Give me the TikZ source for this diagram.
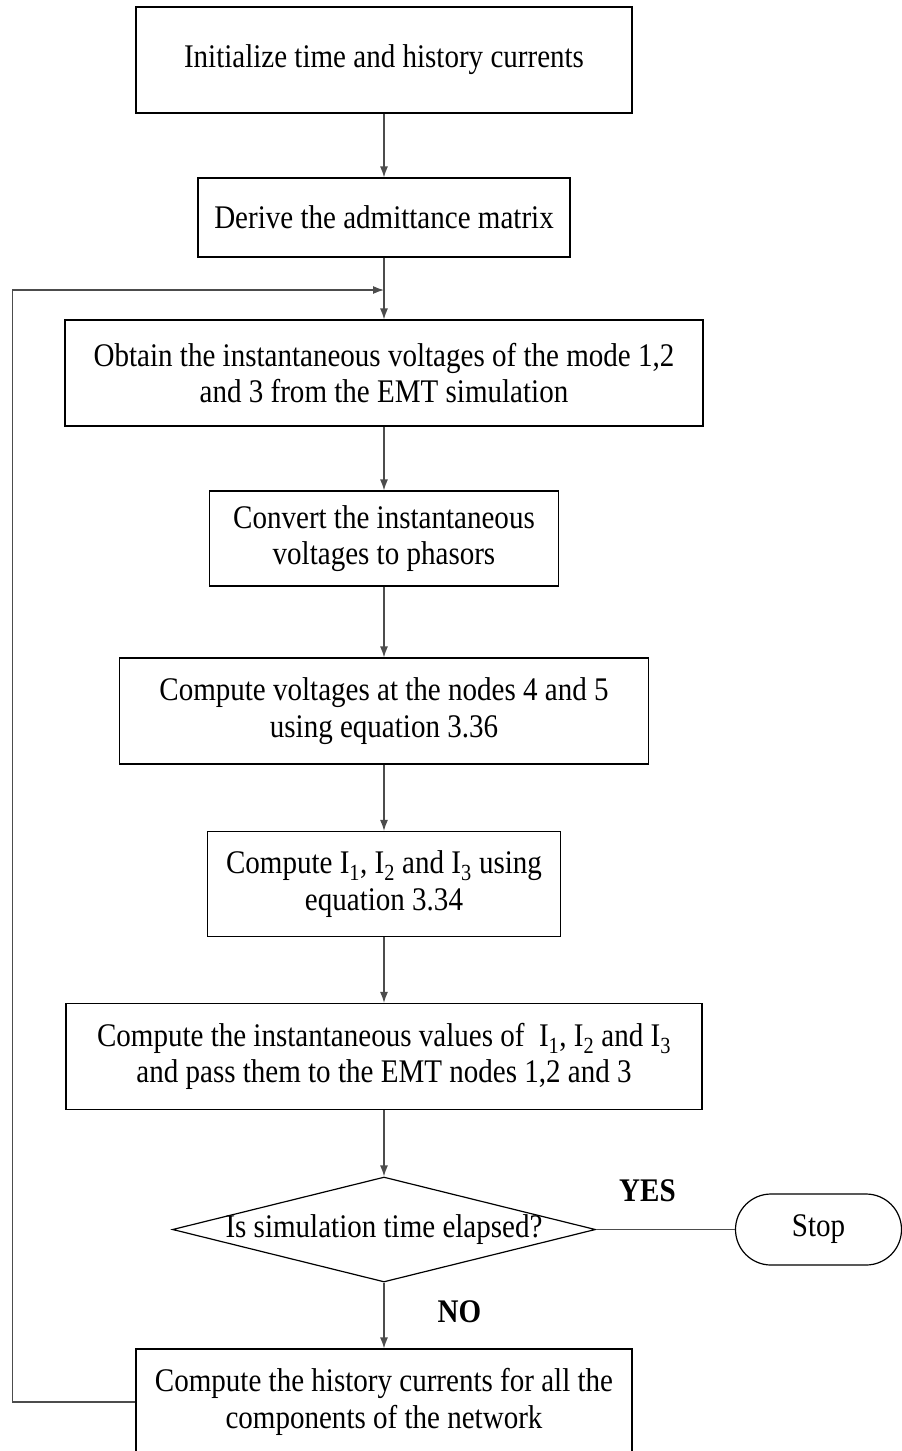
\documentclass[tikz,border=0pt]{standalone}
\usepackage{fontspec}
\setmainfont{Liberation Serif}[FakeStretch=0.88]
\usetikzlibrary{arrows.meta, positioning, shapes.geometric, shapes.misc}
\newcommand{\stepfont}{\fontsize{33}{36.5}\selectfont}
\tikzset{
  >={Latex[length=11pt,width=8pt]}, % narrow filled arrow heads
  node distance=173pt, % centre to centre distance of two steps.
  % Changed per node where the gap differs.
  every node/.style={font=\stepfont}, % Times-like text everywhere
}

\begin{document}
\begin{tikzpicture}[x=1pt, y=1pt, line width=1.2pt,
    block/.style = {draw, rectangle, align=center, inner sep=0pt},
    decision/.style = {draw, diamond, aspect=4, inner sep=0pt},
    term/.style = {draw, rounded rectangle, inner sep=0pt},
    answer/.style = {font=\stepfont\bfseries, inner sep=0pt},
    link/.style = {draw=black!70}]
  \useasboundingbox (0,0) rectangle (902,-1451);

  \node[block, minimum width=496pt, minimum height=106pt] (init) at (384,-60)
    {Initialize time and history currents};
  \node[block, below of=init, node distance=157.5pt,
    minimum width=372pt, minimum height=79pt] (admit)
    {Derive the admittance matrix};
  \node[block, below of=admit, node distance=155.5pt,
    minimum width=638pt, minimum height=106pt] (obtain)
    {Obtain the instantaneous voltages of the mode 1,2\\
    and 3 from the EMT simulation};
  \node[block, below of=obtain, node distance=165.5pt,
    minimum width=349pt, minimum height=95pt] (phasor)
    {Convert the instantaneous\\voltages to phasors};
  \node[block, below of=phasor, node distance=172.5pt,
    minimum width=529pt, minimum height=106pt] (volt)
    {Compute voltages at the nodes 4 and 5\\using equation 3.36};
  \node[block, below of=volt,
    minimum width=353pt, minimum height=105pt] (curr)
    {Compute I\textsubscript{1}, I\textsubscript{2} and I\textsubscript{3} using\\
    equation 3.34};
  \node[block, below of=curr, node distance=172.5pt,
    minimum width=636pt, minimum height=106pt] (inst)
    {Compute the instantaneous values of~ I\textsubscript{1}, I\textsubscript{2} and I\textsubscript{3}\\
    and pass them to the EMT nodes 1,2 and 3};
  \node[decision, below of=inst,
    minimum width=423pt, minimum height=105pt,
    label={center:Is simulation time elapsed?}] (elapsed) {};
  \node[term, right of=elapsed, node distance=434.5pt,
    minimum width=166pt, minimum height=71pt] (stop) {Stop};
  \node[block, below of=elapsed, node distance=172.5pt,
    minimum width=496pt, minimum height=106pt] (hist)
    {Compute the history currents for all the\\
    components of the network};

  % where the loop comes back in
  \coordinate[above of=obtain, node distance=83pt] (join);
  \coordinate (back) at (12.7,-290);

  \draw[link, ->] (init) -- (admit);
  \draw[link, ->] (admit) -- (obtain);
  \draw[link, ->] (obtain) -- (phasor);
  \draw[link, ->] (phasor) -- (volt);
  \draw[link, ->] (volt) -- (curr);
  \draw[link, ->] (curr) -- (inst);
  \draw[link, ->] (inst) -- (elapsed);
  \draw[link] (elapsed) -- node[answer, pos=0.37, above=27pt] {YES} (stop);
  \draw[link, ->] (elapsed) -- node[answer, pos=0.45, right=53pt] {NO} (hist);
  \draw[link, ->] (hist.west) -| (back) -- (join);
\end{tikzpicture}
\end{document}
